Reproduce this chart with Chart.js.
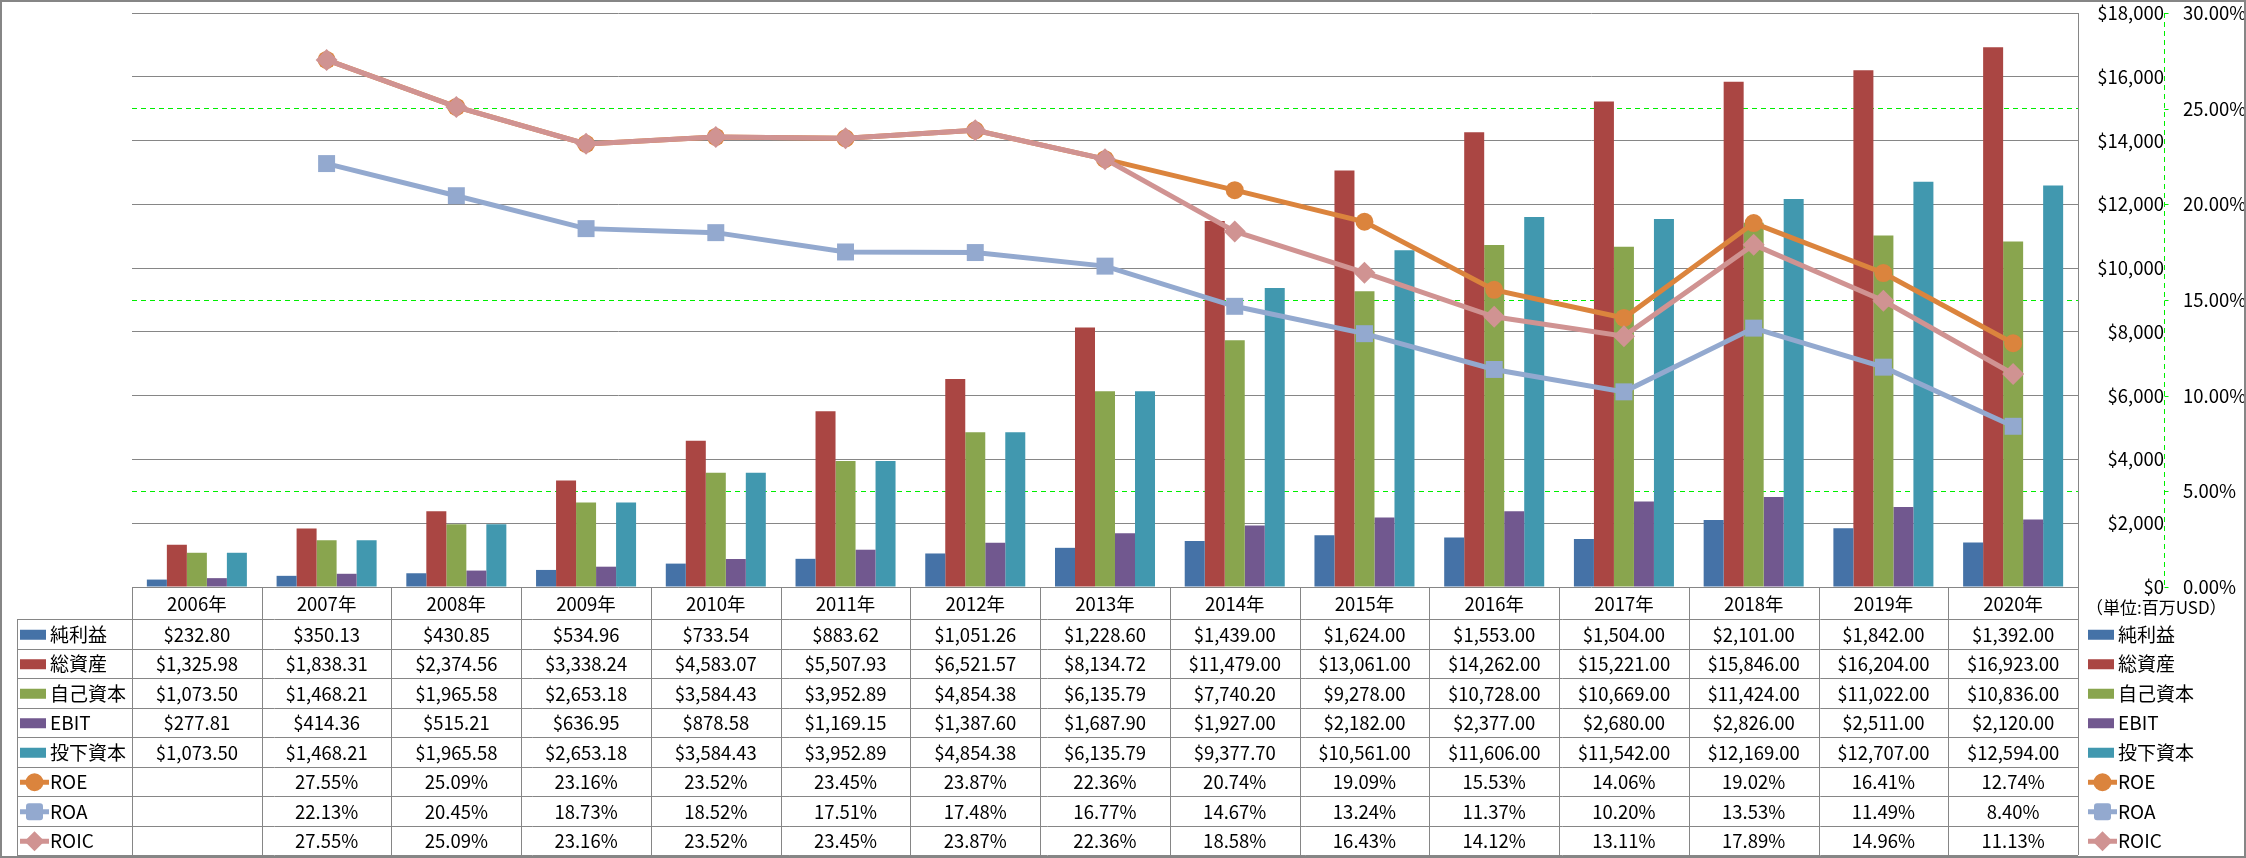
<!DOCTYPE html>
<html>
<head>
<meta charset="utf-8">
<script src="https://cdn.jsdelivr.net/npm/chart.js@4.4.1/dist/chart.umd.min.js"></script>
<style>
  html, body { margin: 0; padding: 0; background: #fff; }
  #wrap { width: 2246px; height: 858px; position: relative; }
</style>
</head>
<body>
<div id="wrap"><canvas id="chart" width="2246" height="858"></canvas></div>
<script>
const years = ["2006年","2007年","2008年","2009年","2010年","2011年","2012年","2013年","2014年","2015年","2016年","2017年","2018年","2019年","2020年"];
const netIncome = [232.80, 350.13, 430.85, 534.96, 733.54, 883.62, 1051.26, 1228.60, 1439.00, 1624.00, 1553.00, 1504.00, 2101.00, 1842.00, 1392.00];
const totalAssets = [1325.98, 1838.31, 2374.56, 3338.24, 4583.07, 5507.93, 6521.57, 8134.72, 11479.00, 13061.00, 14262.00, 15221.00, 15846.00, 16204.00, 16923.00];
const equity = [1073.50, 1468.21, 1965.58, 2653.18, 3584.43, 3952.89, 4854.38, 6135.79, 7740.20, 9278.00, 10728.00, 10669.00, 11424.00, 11022.00, 10836.00];
const ebit = [277.81, 414.36, 515.21, 636.95, 878.58, 1169.15, 1387.60, 1687.90, 1927.00, 2182.00, 2377.00, 2680.00, 2826.00, 2511.00, 2120.00];
const investedCapital = [1073.50, 1468.21, 1965.58, 2653.18, 3584.43, 3952.89, 4854.38, 6135.79, 9377.70, 10561.00, 11606.00, 11542.00, 12169.00, 12707.00, 12594.00];
const roe = [null, 27.55, 25.09, 23.16, 23.52, 23.45, 23.87, 22.36, 20.74, 19.09, 15.53, 14.06, 19.02, 16.41, 12.74];
const roa = [null, 22.13, 20.45, 18.73, 18.52, 17.51, 17.48, 16.77, 14.67, 13.24, 11.37, 10.20, 13.53, 11.49, 8.40];
const roic = [null, 27.55, 25.09, 23.16, 23.52, 23.45, 23.87, 22.36, 18.58, 16.43, 14.12, 13.11, 17.89, 14.96, 11.13];
const unitLabel = "（単位:百万USD）";

const FONT = '"Noto Sans CJK JP", "Noto Sans", sans-serif';
const GRID = "#868686";

const C = {
  net: "#4572A7", assets: "#AA4643", equity: "#89A54E", ebit: "#71588F", ic: "#4198AF",
  roe: "#DB843D", roa: "#93A9CF", roic: "#D09392"
};

const rows = [
  { label: "純利益", data: netIncome, kind: "bar", color: C.net },
  { label: "総資産", data: totalAssets, kind: "bar", color: C.assets },
  { label: "自己資本", data: equity, kind: "bar", color: C.equity },
  { label: "EBIT", data: ebit, kind: "bar", color: C.ebit },
  { label: "投下資本", data: investedCapital, kind: "bar", color: C.ic },
  { label: "ROE", data: roe, kind: "line", color: C.roe, marker: "circle" },
  { label: "ROA", data: roa, kind: "line", color: C.roa, marker: "rect" },
  { label: "ROIC", data: roic, kind: "line", color: C.roic, marker: "diamond" }
];

function money(v) {
  return "$" + v.toLocaleString("en-US", { minimumFractionDigits: 2, maximumFractionDigits: 2 });
}

function marker(ctx, type, x, y, color) {
  ctx.fillStyle = color;
  ctx.beginPath();
  if (type === "circle") {
    ctx.arc(x, y, 9, 0, Math.PI * 2);
  } else if (type === "rect") {
    ctx.roundRect(x - 8.5, y - 8.5, 17, 17, 3);
  } else {
    ctx.moveTo(x, y - 10); ctx.lineTo(x + 10, y); ctx.lineTo(x, y + 10); ctx.lineTo(x - 10, y);
    ctx.closePath();
  }
  ctx.fill();
}

/* table under the plot + side legend + frame */
const tablePlugin = {
  id: "dataTable",
  afterDraw(chart) {
    const ctx = chart.ctx;
    const a = chart.chartArea;
    const n = years.length;
    const colW = (a.right - a.left) / n;
    const top = a.bottom;
    const headB = top + 32;
    const rowH = 29.5;
    const legL = 17;
    const bottom = headB + rowH * rows.length;

    ctx.save();
    // grid of the table
    ctx.strokeStyle = GRID;
    ctx.lineWidth = 1;
    ctx.beginPath();
    for (let i = 0; i <= n; i++) {
      const x = Math.round(a.left + i * colW) + 0.5;
      ctx.moveTo(x, top); ctx.lineTo(x, bottom);
    }
    ctx.moveTo(legL + 0.5, headB); ctx.lineTo(legL + 0.5, bottom);
    for (let r = 0; r <= rows.length; r++) {
      const y = Math.round(headB + r * rowH) + 0.5;
      ctx.moveTo(legL, y); ctx.lineTo(a.right, y);
    }
    ctx.stroke();

    // year header
    ctx.fillStyle = "#000";
    ctx.textAlign = "center";
    ctx.textBaseline = "middle";
    ctx.font = "18.5px " + FONT;
    years.forEach((y, i) => ctx.fillText(y, a.left + (i + 0.5) * colW, (top + headB) / 2 + 1));

    rows.forEach((r, ri) => {
      const cy = headB + (ri + 0.5) * rowH + 1;
      // values
      ctx.fillStyle = "#000";
      ctx.textAlign = "center";
      ctx.font = "18.5px " + FONT;
      r.data.forEach((v, i) => {
        if (v === null) return;
        const t = r.kind === "bar" ? money(v) : v.toFixed(2) + "%";
        ctx.fillText(t, a.left + (i + 0.5) * colW, cy);
      });
      // legend keys, left (inside table) and right
      [legL + 3, a.right + 10].forEach(lx => {
        if (r.kind === "bar") {
          ctx.fillStyle = r.color;
          ctx.fillRect(lx, cy - 5, 26, 10);
        } else {
          ctx.strokeStyle = r.color;
          ctx.lineWidth = 5;
          ctx.beginPath();
          ctx.moveTo(lx, cy); ctx.lineTo(lx + 29, cy);
          ctx.stroke();
          marker(ctx, r.marker, lx + 14.5, cy, r.color);
        }
        ctx.fillStyle = "#000";
        ctx.textAlign = "left";
        ctx.font = "19px " + FONT;
        ctx.fillText(r.label, lx + 30, cy);
      });
    });

    // unit note
    ctx.font = "17px " + FONT;
    ctx.textAlign = "left";
    ctx.fillStyle = "#000";
    ctx.fillText(unitLabel, a.right + 8, top + 21);

    // right plot border continues into the table
    ctx.strokeStyle = GRID;
    ctx.lineWidth = 1;
    ctx.beginPath();
    ctx.moveTo(Math.round(a.right) + 0.5, a.top);
    ctx.lineTo(Math.round(a.right) + 0.5, bottom);
    ctx.stroke();

    // secondary axis line, green dashed, with small ticks
    const y1 = chart.scales.y1;
    const ax = Math.round(y1.left) + 0.5;
    ctx.strokeStyle = "#00ee00";
    ctx.setLineDash([5, 4]);
    ctx.beginPath();
    ctx.moveTo(ax, a.top);
    ctx.lineTo(ax, a.bottom);
    ctx.stroke();
    ctx.setLineDash([]);
    ctx.beginPath();
    y1.ticks.forEach(t => {
      const ty = Math.round(y1.getPixelForValue(t.value)) + 0.5;
      ctx.moveTo(ax, ty); ctx.lineTo(ax + 4, ty);
    });
    ctx.stroke();

    // outer frame
    ctx.strokeStyle = GRID;
    ctx.lineWidth = 2;
    ctx.strokeRect(1, 1, chart.width - 2, chart.height - 2);
    ctx.restore();
  }
};

const barDs = rows.filter(r => r.kind === "bar").map(r => ({
  type: "bar",
  label: r.label,
  data: r.data,
  backgroundColor: r.color,
  yAxisID: "y",
  order: 10,
  categoryPercentage: 0.771,
  barPercentage: 1.0
}));

const lineDs = [
  { label: "ROE", data: roe, color: C.roe, style: "circle", radius: 9, order: 3 },
  { label: "ROA", data: roa, color: C.roa, style: "rect", radius: 12, order: 2 },
  { label: "ROIC", data: roic, color: C.roic, style: "rectRot", radius: 11, order: 1 }
].map(d => ({
  type: "line",
  label: d.label,
  data: d.data,
  borderColor: d.color,
  backgroundColor: d.color,
  borderWidth: 5,
  pointStyle: d.style,
  pointRadius: d.radius,
  pointBorderWidth: 0,
  pointBackgroundColor: d.color,
  yAxisID: "y1",
  order: d.order,
  tension: 0,
  spanGaps: false
}));

// keep axis labels from pushing the plot area down
const noPad = s => { s.paddingTop = 0; s.paddingBottom = 0; };

new Chart(document.getElementById("chart"), {
  data: { labels: years, datasets: [...barDs, ...lineDs] },
  options: {
    responsive: false,
    animation: false,
    layout: { padding: { left: 132, top: 13, right: 0, bottom: 271 } },
    plugins: { legend: { display: false }, tooltip: { enabled: false } },
    scales: {
      x: { display: false, offset: true },
      y: {
        position: "right",
        min: 0, max: 18000,
        afterFit: s => { s.width = 86; noPad(s); },
        ticks: {
          stepSize: 2000,
          crossAlign: "far",
          padding: 20,
          color: "#000",
          font: { family: FONT, size: 18.5 },
          callback: v => "$" + v.toLocaleString("en-US")
        },
        grid: { color: GRID, lineWidth: 1, drawTicks: false },
        border: { display: true, color: GRID }
      },
      y1: {
        position: "right",
        min: 0, max: 30,
        afterFit: s => { s.width = 82; noPad(s); },
        ticks: {
          stepSize: 5,
          padding: 19,
          color: "#000",
          font: { family: FONT, size: 18.5 },
          callback: v => v.toFixed(2) + "%"
        },
        grid: {
          drawOnChartArea: true,
          drawTicks: false,
          color: c => (c.tick && c.tick.value % 10 === 5) ? "#00ee00" : "rgba(0,0,0,0)",
          lineWidth: 1
        },
        border: { display: false, dash: [5, 4] }
      }
    }
  },
  plugins: [tablePlugin]
});
</script>
</body>
</html>
